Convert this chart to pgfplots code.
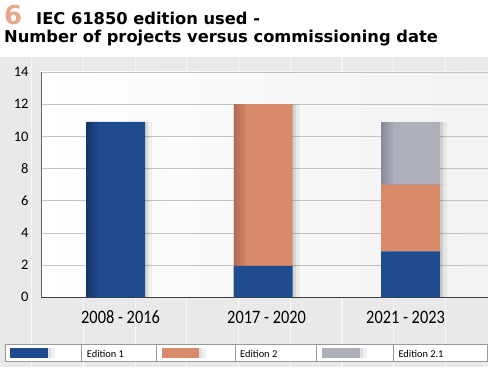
\documentclass[border=0pt]{standalone}
\usepackage{pgfplots}
\pgfplotsset{compat=1.18}
\usetikzlibrary{shadows}
\usepackage{graphicx}
\usepackage{fontspec}
\setmainfont{Carlito}
\newfontfamily\titlefont{DejaVu Sans}

\definecolor{ed1}{RGB}{31,76,142}
\definecolor{ed1d}{RGB}{20,54,106}
\definecolor{ed2}{RGB}{216,138,106}
\definecolor{ed2d}{RGB}{178,110,84}
\definecolor{ed3}{RGB}{173,175,185}
\definecolor{ed3d}{RGB}{138,142,156}
\definecolor{bggray}{RGB}{233,233,233}
\definecolor{six}{RGB}{232,166,140}
\definecolor{gridc}{RGB}{196,196,196}

\tikzset{
  darkedge/.style 2 args={
    path picture={
      \fill[#1, path picture={}] (path picture bounding box.south west) rectangle ([xshift=3pt]path picture bounding box.north west);
      \fill[#1!75!#2, path picture={}] ([xshift=3pt]path picture bounding box.south west) rectangle ([xshift=6pt]path picture bounding box.north west);
      \fill[#1!50!#2, path picture={}] ([xshift=6pt]path picture bounding box.south west) rectangle ([xshift=9pt]path picture bounding box.north west);
      \fill[#1!25!#2, path picture={}] ([xshift=9pt]path picture bounding box.south west) rectangle ([xshift=12pt]path picture bounding box.north west);
    }
  },
  barshadow/.style={
    drop shadow={shadow xshift=3pt, shadow yshift=0pt, fill=black, opacity=0.10, path picture={}},
    drop shadow={shadow xshift=7pt, shadow yshift=0pt, fill=black, opacity=0.05, path picture={}}
  }
}

\pgfplotstableread{
x e1 e2 e3
0 10.9 0 0
1 1.95 10.05 0
2 2.85 4.15 3.9
}\datatable

\begin{document}
\begin{tikzpicture}[x=1pt,y=1pt]
\path[use as bounding box] (0,0) rectangle (495,367);
\fill[white] (0,0) rectangle (495,367);
\fill[bggray] (0,0) rectangle (488,310);
\foreach \gx in {31.7,83.4,135.1,186.8,238.5,290.2,341.9,393.6,445.3}
  \draw[white, line width=1.2pt, opacity=0.6] (\gx,0) -- (\gx,310);

% title
\node[anchor=base west, inner sep=0, text=six] at (4,342) {\titlefont\bfseries\fontsize{26}{26}\selectfont 6};
\node[anchor=base west, inner sep=0] at (36,342) {\titlefont\bfseries\fontsize{16.3}{16.3}\selectfont IEC 61850 edition used -};
\node[anchor=base west, inner sep=0] at (4,324.3) {\titlefont\bfseries\fontsize{16.3}{16.3}\selectfont Number of projects versus commissioning date};

\begin{axis}[
  at={(41pt,69.7pt)}, anchor=south west,
  scale only axis, width=447pt, height=225.3pt,
  xmin=-0.505, xmax=2.525, ymin=0, ymax=14,
  ybar stacked, bar width=59pt,
  axis background/.style={left color=white, right color=bggray!60},
  axis x line*=bottom, axis y line*=left,
  x axis line style={draw=black!75, line width=1.2pt, -},
  y axis line style={draw=black!60, line width=0.8pt, -},
  ytick={0,2,...,14},
  ymajorgrids, grid style={draw=gridc, line width=0.8pt},
  major tick length=0pt,
  /pgf/number format/assume math mode=true,
  yticklabel style={font=\fontsize{14.5}{14.5}\selectfont, anchor=east, xshift=-9pt},
  xtick={0.034,1.024,1.966},
  xticklabels={\scalebox{0.86}[1]{2008 - 2016},\scalebox{0.86}[1]{2017 - 2020},\scalebox{0.86}[1]{2021 - 2023}},
  xticklabel style={font=\fontsize{19}{19}\selectfont, anchor=base, yshift=-25.7pt},
]
\addplot[draw=none, fill=ed1, barshadow, darkedge={ed1d}{ed1}] table[x=x, y=e1] {\datatable};
\addplot[draw=none, fill=ed2, barshadow, darkedge={ed2d}{ed2}] table[x=x, y=e2] {\datatable};
\addplot[draw=none, fill=ed3, barshadow, darkedge={ed3d}{ed3}] table[x=x, y=e3] {\datatable};
\end{axis}

% legend
\draw[black!40, fill=white, line width=0.8pt] (5,5.3) rectangle (487.5,23);
\foreach \lx in {81.7,156.7,235,316,393}
  \draw[black!40, line width=0.8pt] (\lx,5.3) -- (\lx,23);
\foreach \sx in {47.7,199,360}{
  \fill[black!12] (\sx,8.7) rectangle (\sx+3,18.7);
  \fill[black!6] (\sx+3,8.7) rectangle (\sx+7,18.7);
}
\fill[ed1] (10,8.7) rectangle (47.7,18.7);
\fill[ed2] (161.7,8.7) rectangle (199,18.7);
\fill[ed3] (321.7,8.7) rectangle (360,18.7);
\node[anchor=base west, inner sep=0] at (86.7,9.7) {\fontsize{10.4}{10.4}\selectfont Edition 1};
\node[anchor=base west, inner sep=0] at (240,9.7) {\fontsize{10.4}{10.4}\selectfont Edition 2};
\node[anchor=base west, inner sep=0] at (398.3,9.7) {\fontsize{10.4}{10.4}\selectfont Edition 2.1};
\end{tikzpicture}
\end{document}
